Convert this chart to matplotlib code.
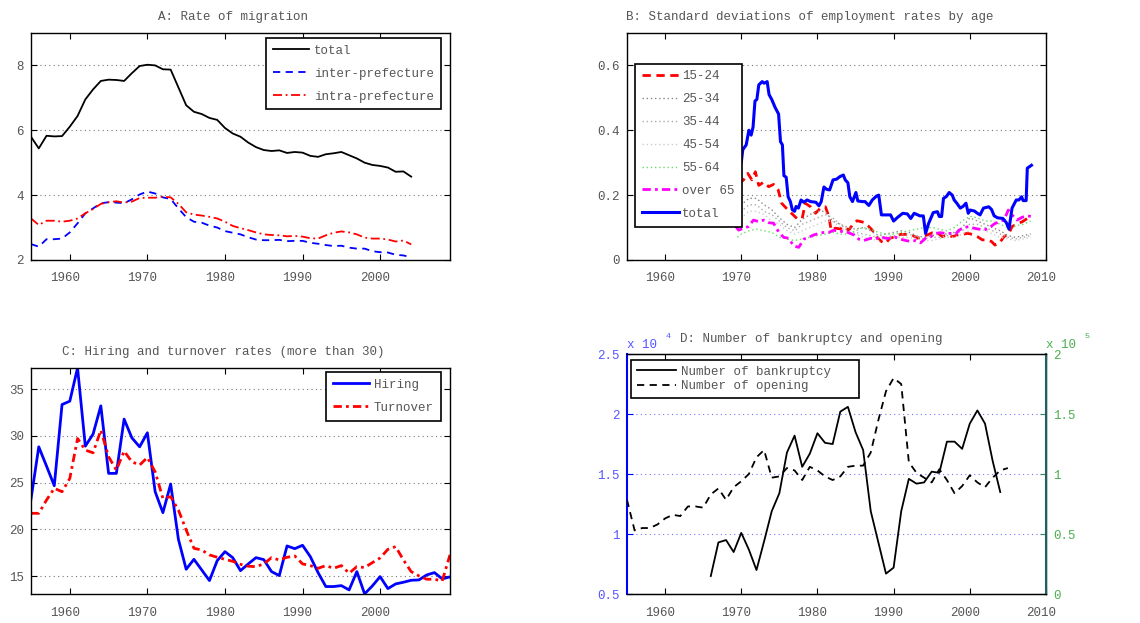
import matplotlib
matplotlib.use('Agg')
import matplotlib.pyplot as plt
from matplotlib.ticker import FormatStrFormatter
from matplotlib.transforms import ScaledTranslation

plt.rcParams['font.family'] = ['Liberation Mono', 'DejaVu Sans Mono']
plt.rcParams['font.size'] = 9

txt_col = '#555555'

# ---- A: rate of migration (annual 1955-2004)
years_a = list(range(1955, 2005))
mig_total = [5.80, 5.44, 5.83, 5.81, 5.82, 6.11, 6.44, 6.95, 7.26, 7.52,
             7.56, 7.55, 7.52, 7.76, 7.98, 8.02, 8.00, 7.88, 7.87, 7.32,
             6.77, 6.57, 6.50, 6.38, 6.32, 6.07, 5.90, 5.80, 5.62, 5.48,
             5.39, 5.36, 5.38, 5.30, 5.33, 5.31, 5.21, 5.18, 5.26, 5.29,
             5.33, 5.23, 5.13, 5.00, 4.93, 4.90, 4.85, 4.72, 4.73, 4.57]
mig_inter = [2.49, 2.41, 2.64, 2.64, 2.66, 2.85, 3.13, 3.44, 3.59, 3.75,
             3.78, 3.77, 3.75, 3.87, 4.02, 4.11, 4.05, 3.93, 3.88, 3.59,
             3.32, 3.18, 3.15, 3.06, 3.00, 2.89, 2.84, 2.79, 2.70, 2.63,
             2.61, 2.61, 2.62, 2.58, 2.59, 2.59, 2.53, 2.50, 2.46, 2.43,
             2.44, 2.38, 2.35, 2.35, 2.27, 2.24, 2.23, 2.16, 2.14, 2.08]
mig_intra = [3.28, 3.08, 3.21, 3.21, 3.18, 3.21, 3.28, 3.44, 3.57, 3.73,
             3.78, 3.81, 3.77, 3.80, 3.91, 3.92, 3.92, 3.95, 3.93, 3.73,
             3.47, 3.40, 3.37, 3.33, 3.28, 3.18, 3.05, 2.98, 2.92, 2.85,
             2.79, 2.77, 2.76, 2.73, 2.74, 2.72, 2.67, 2.66, 2.76, 2.84,
             2.88, 2.85, 2.79, 2.69, 2.66, 2.66, 2.63, 2.57, 2.60, 2.48]

# ---- B: std of employment rates by age
t_total = [1969.3, 1969.65, 1970.0, 1970.2, 1970.65, 1971.0, 1971.3, 1971.55, 1971.8,
           1972.05, 1972.3, 1972.75, 1973.0, 1973.4, 1973.65, 1974.0, 1974.45, 1974.9,
           1975.15, 1975.4, 1975.6, 1975.9, 1976.15, 1976.45, 1976.7, 1977.0, 1977.2,
           1977.5, 1977.85, 1978.2, 1978.65, 1979.1, 1979.8, 1980.2, 1980.5, 1980.85,
           1981.2, 1981.6, 1982.05, 1982.5, 1982.95, 1983.4, 1983.65, 1984.0, 1984.25,
           1984.6, 1985.05, 1985.3, 1985.9, 1986.25, 1986.75, 1987.2, 1987.75, 1988.05,
           1988.4, 1989.6, 1990.0, 1990.55, 1991.2, 1991.8, 1992.25, 1992.7, 1993.45,
           1993.9, 1994.2, 1994.6, 1995.2, 1995.75, 1996.0, 1996.3, 1996.55, 1996.9,
           1997.3, 1997.7, 1997.95, 1998.3, 1998.75, 1999.1, 1999.5, 1999.8, 2000.05,
           2000.6, 2001.0, 2001.35, 2001.8, 2002.5, 2002.85, 2003.2, 2003.65, 2004.35,
           2004.8, 2005.15, 2005.55, 2006.1, 2006.45, 2006.8, 2007.0, 2007.4, 2007.55,
           2008.1]
sd_total = [0.30, 0.32, 0.30, 0.34, 0.355, 0.40, 0.385, 0.41, 0.49,
            0.495, 0.54, 0.55, 0.545, 0.55, 0.51, 0.495, 0.47, 0.45,
            0.365, 0.355, 0.26, 0.255, 0.195, 0.18, 0.155, 0.15, 0.165,
            0.16, 0.185, 0.178, 0.185, 0.18, 0.178, 0.167, 0.18, 0.225,
            0.218, 0.216, 0.247, 0.249, 0.257, 0.262, 0.247, 0.238, 0.195,
            0.18, 0.208, 0.182, 0.18, 0.18, 0.168, 0.185, 0.197, 0.20,
            0.139, 0.139, 0.12, 0.132, 0.144, 0.142, 0.128, 0.144, 0.136,
            0.136, 0.082, 0.113, 0.146, 0.149, 0.134, 0.134, 0.19, 0.195,
            0.208, 0.20, 0.185, 0.175, 0.16, 0.165, 0.175, 0.144, 0.154,
            0.151, 0.144, 0.139, 0.16, 0.164, 0.156, 0.136, 0.13, 0.128,
            0.115, 0.095, 0.16, 0.185, 0.185, 0.195, 0.183, 0.183, 0.283,
            0.292]
t_young = [1969.3, 1969.65, 1969.95, 1970.3, 1970.85, 1971.4, 1971.85, 1972.3, 1972.95,
           1973.6, 1974.25, 1974.85, 1975.3, 1975.9, 1976.6, 1977.3, 1978.0, 1978.4,
           1979.1, 1979.75, 1980.4, 1981.05, 1981.5, 1981.8, 1982.35, 1983.0, 1983.45,
           1984.1, 1984.7, 1985.2, 1986.1, 1986.75, 1987.2, 1987.75, 1988.4, 1988.95,
           1989.5, 1990.25, 1990.9, 1991.8, 1992.45, 1993.1, 1993.75, 1994.4, 1995.1,
           1995.75, 1996.4, 1997.05, 1997.7, 1998.4, 1999.05, 1999.7, 2000.35, 2001.0,
           2001.65, 2002.3, 2002.85, 2003.3, 2003.85, 2004.5, 2005.15, 2005.55, 2006.2,
           2006.9, 2007.55, 2008.1]
sd_15_24 = [0.19, 0.205, 0.24, 0.247, 0.267, 0.247, 0.272, 0.23, 0.24,
            0.226, 0.233, 0.216, 0.175, 0.16, 0.144, 0.128, 0.128, 0.175,
            0.164, 0.144, 0.16, 0.164, 0.134, 0.092, 0.098, 0.096, 0.103,
            0.092, 0.111, 0.121, 0.116, 0.103, 0.092, 0.072, 0.057, 0.051,
            0.067, 0.072, 0.079, 0.079, 0.077, 0.067, 0.072, 0.077, 0.084,
            0.084, 0.072, 0.077, 0.072, 0.077, 0.079, 0.082, 0.079, 0.072,
            0.062, 0.062, 0.057, 0.046, 0.051, 0.072, 0.082, 0.103, 0.111,
            0.118, 0.128, 0.134]
t_old = [1969.3, 1969.65, 1970.3, 1970.95, 1971.6, 1972.3, 1972.95, 1973.6, 1974.25,
         1974.9, 1975.55, 1976.2, 1976.9, 1977.55, 1978.2, 1978.85, 1979.5, 1980.2,
         1980.85, 1981.5, 1982.15, 1982.8, 1983.45, 1984.1, 1984.8, 1985.45, 1986.1,
         1987.0, 1987.6, 1988.3, 1988.95, 1989.6, 1990.25, 1990.9, 1991.6, 1992.25,
         1992.9, 1993.55, 1994.2, 1994.85, 1995.5, 1996.15, 1996.85, 1997.5, 1998.15,
         1998.6, 1999.25, 1999.9, 2000.55, 2001.2, 2001.85, 2002.5, 2003.2, 2003.85,
         2004.5, 2005.05, 2005.55, 2006.2, 2006.9, 2007.55, 2008.1]
sd_over65 = [0.103, 0.092, 0.098, 0.103, 0.123, 0.118, 0.123, 0.115, 0.113,
             0.087, 0.07, 0.067, 0.043, 0.039, 0.064, 0.07, 0.077, 0.082,
             0.085, 0.085, 0.092, 0.087, 0.089, 0.084, 0.077, 0.064, 0.06,
             0.067, 0.064, 0.072, 0.067, 0.067, 0.07, 0.064, 0.06, 0.057,
             0.06, 0.053, 0.067, 0.072, 0.082, 0.084, 0.082, 0.082, 0.08,
             0.092, 0.10, 0.103, 0.098, 0.095, 0.092, 0.098, 0.111, 0.118,
             0.123, 0.154, 0.139, 0.123, 0.132, 0.136, 0.134]
t_mid = [1969.5, 1970, 1971, 1972, 1973, 1974, 1975, 1976, 1977, 1978,
         1979, 1980, 1981, 1982, 1983, 1984, 1985, 1986, 1987, 1988,
         1989, 1990, 1991, 1992, 1993, 1994, 1995, 1996, 1997, 1998,
         1999, 2000, 2001, 2002, 2003, 2004, 2005, 2006, 2007, 2008]
sd_25_34 = [0.16, 0.17, 0.19, 0.19, 0.17, 0.155, 0.13, 0.11, 0.10, 0.125,
            0.14, 0.15, 0.15, 0.12, 0.11, 0.10, 0.095, 0.10, 0.09, 0.075,
            0.08, 0.085, 0.09, 0.085, 0.075, 0.07, 0.075, 0.08, 0.08, 0.085,
            0.10, 0.13, 0.12, 0.11, 0.10, 0.09, 0.075, 0.07, 0.075, 0.08]
sd_35_44 = [0.14, 0.15, 0.17, 0.17, 0.15, 0.14, 0.12, 0.10, 0.09, 0.11,
            0.12, 0.13, 0.14, 0.13, 0.11, 0.09, 0.085, 0.08, 0.075, 0.07,
            0.07, 0.075, 0.08, 0.08, 0.07, 0.065, 0.07, 0.07, 0.075, 0.08,
            0.09, 0.11, 0.11, 0.10, 0.09, 0.08, 0.07, 0.065, 0.07, 0.075]
sd_45_54 = [0.12, 0.13, 0.15, 0.15, 0.14, 0.12, 0.11, 0.09, 0.08, 0.09,
            0.10, 0.11, 0.12, 0.12, 0.10, 0.085, 0.08, 0.07, 0.065, 0.06,
            0.065, 0.07, 0.07, 0.07, 0.065, 0.06, 0.06, 0.065, 0.07, 0.07,
            0.08, 0.09, 0.10, 0.09, 0.08, 0.07, 0.065, 0.06, 0.065, 0.07]
sd_55_64 = [0.07, 0.08, 0.09, 0.095, 0.09, 0.085, 0.07, 0.065, 0.06, 0.065,
            0.07, 0.075, 0.08, 0.085, 0.08, 0.08, 0.09, 0.10, 0.095, 0.085,
            0.08, 0.08, 0.085, 0.09, 0.095, 0.10, 0.10, 0.095, 0.09, 0.10,
            0.12, 0.135, 0.13, 0.12, 0.12, 0.11, 0.10, 0.105, 0.11, 0.12]

# ---- C: hiring and turnover (annual 1955-2009)
years_c = list(range(1955, 2010))
hiring = [23.26, 28.84, 26.78, 24.68, 33.36, 33.72, 37.28, 28.91, 30.20, 33.22,
          26.00, 26.00, 31.80, 29.80, 28.84, 30.34, 24.04, 21.80, 24.86, 18.95,
          15.75, 16.81, 15.68, 14.54, 16.67, 17.63, 16.99, 15.60, 16.32, 16.99,
          16.78, 15.50, 15.07, 18.24, 17.95, 18.31, 17.10, 15.39, 13.90, 13.90,
          14.00, 13.54, 15.50, 13.11, 13.97, 14.96, 13.68, 14.18, 14.36, 14.57,
          14.61, 15.14, 15.39, 14.72, 14.93]
turnover = [21.73, 21.73, 23.15, 24.40, 24.04, 25.46, 29.73, 28.49, 28.20, 30.62,
            27.78, 26.35, 28.38, 27.24, 26.89, 27.70, 26.17, 23.33, 23.51, 22.08,
            19.95, 17.99, 17.81, 17.28, 17.03, 16.81, 16.60, 16.28, 16.07, 16.03,
            16.32, 16.99, 16.74, 17.03, 17.17, 16.32, 16.14, 15.85, 16.14, 15.85,
            16.14, 15.32, 16.03, 15.93, 16.46, 16.96, 17.88, 18.17, 16.74, 15.50,
            15.04, 14.68, 14.68, 14.50, 17.28]

# ---- D: bankruptcies (x 10^4) and openings (x 10^5)
years_bk = list(range(1966, 2005))
bankrupt = [0.65, 0.93, 0.95, 0.85, 1.01, 0.87, 0.70, 0.94, 1.19, 1.34,
            1.68, 1.82, 1.56, 1.67, 1.84, 1.76, 1.75, 2.02, 2.06, 1.85,
            1.70, 1.19, 0.93, 0.67, 0.72, 1.19, 1.46, 1.42, 1.43, 1.52,
            1.51, 1.77, 1.77, 1.71, 1.92, 2.03, 1.92, 1.61, 1.35]
years_op = list(range(1955, 2006))
opening = [0.785, 0.53, 0.55, 0.55, 0.58, 0.63, 0.66, 0.65, 0.73, 0.73,
           0.72, 0.83, 0.88, 0.785, 0.89, 0.94, 1.00, 1.14, 1.20, 0.97,
           0.98, 1.05, 1.03, 0.95, 1.06, 1.03, 0.98, 0.95, 0.98, 1.06,
           1.07, 1.07, 1.18, 1.45, 1.69, 1.80, 1.75, 1.10, 1.01, 0.97,
           0.93, 1.04, 0.95, 0.84, 0.90, 0.99, 0.93, 0.89, 0.97, 1.03,
           1.05]


def style_axes(ax, grid_col='#777777'):
    ax.tick_params(direction='in', top=True, right=True, length=4,
                   labelcolor=txt_col, labelsize=9)
    ax.tick_params(axis='x', pad=9)
    ax.tick_params(axis='y', pad=5)
    ax.yaxis.grid(True, linestyle=(0, (1, 3)), color=grid_col, linewidth=0.8)
    ax.set_axisbelow(True)
    for s in ax.spines.values():
        s.set_linewidth(1.0)
    ax.yaxis.set_major_formatter(FormatStrFormatter('%g'))


def shift_xlabels(ax, dx=-5):
    # year labels sit a few pixels left of their ticks in the original
    off = ScaledTranslation(dx / 100, 0, fig.dpi_scale_trans)
    for t in ax.xaxis.get_major_ticks():
        t.label1.set_transform(t.label1.get_transform() + off)


def legend(ax, handles=None, **kw):
    if handles is None:
        lg = ax.legend(**kw)
    else:
        lg = ax.legend(handles=handles, **kw)
    fr = lg.get_frame()
    fr.set_edgecolor('black')
    fr.set_linewidth(1.2)
    fr.set_boxstyle('square', pad=0)
    for t in lg.get_texts():
        t.set_color(txt_col)
    return lg


fig = plt.figure(figsize=(11.4, 6.23), dpi=100)
axA = fig.add_axes([0.0272, 0.5827, 0.3675, 0.3644])
axB = fig.add_axes([0.5500, 0.5827, 0.3675, 0.3644])
axC = fig.add_axes([0.0272, 0.0465, 0.3675, 0.3633])
axD = fig.add_axes([0.5500, 0.0465, 0.3675, 0.3852])

common_leg = dict(frameon=True, fancybox=False, borderaxespad=0, handlelength=2.9,
                  handletextpad=0.4, borderpad=0.55, labelspacing=0.87, fontsize=9,
                  framealpha=1)

# A
axA.plot(years_a, mig_total, color='black', lw=1.3, label='total')
axA.plot(years_a, mig_inter, color='blue', lw=1.3, ls=(0, (4, 3)), label='inter-prefecture')
axA.plot(years_a, mig_intra, color='red', lw=1.3, ls=(0, (5, 2, 1, 2)), label='intra-prefecture')
axA.set_xlim(1955, 2009)
axA.set_ylim(2, 9)
axA.set_xticks([1960, 1970, 1980, 1990, 2000])
axA.set_yticks([2, 4, 6, 8])
style_axes(axA)
axA.set_title('A: Rate of migration', x=0.482, pad=9, color=txt_col, fontsize=9)
legend(axA, loc='upper right', bbox_to_anchor=(0.978, 0.978), **common_leg)

# B
axB.plot(t_young, sd_15_24, color='red', lw=2, ls=(0, (3, 2)), label='15-24')
axB.plot(t_mid, sd_25_34, color='#888888', lw=1, ls=(0, (1, 2)), label='25-34')
axB.plot(t_mid, sd_35_44, color='#aaaaaa', lw=1, ls=(0, (1, 2)), label='35-44')
axB.plot(t_mid, sd_45_54, color='#cccccc', lw=1, ls=(0, (1, 2)), label='45-54')
axB.plot(t_mid, sd_55_64, color='#66dd66', lw=1, ls=(0, (1, 2)), label='55-64')
axB.plot(t_old, sd_over65, color='magenta', lw=2, ls=(0, (3, 1.5, 1, 1.5)), label='over 65')
axB.plot(t_total, sd_total, color='blue', lw=2.2, label='total')
axB.set_xlim(1955, 2010)
axB.set_ylim(0, 0.7)
axB.set_xticks([1960, 1970, 1980, 1990, 2000, 2010])
axB.set_yticks([0, 0.2, 0.4, 0.6])
style_axes(axB)
axB.set_title('B: Standard deviations of employment rates by age', x=0.437, pad=9,
              color=txt_col, fontsize=9)
legB = dict(common_leg)
legB['handletextpad'] = 0.3
legend(axB, loc='upper left', bbox_to_anchor=(0.02, 0.865), **legB)

# C
axC.plot(years_c, hiring, color='blue', lw=2, label='Hiring')
axC.plot(years_c, turnover, color='red', lw=2, ls=(0, (3, 1.5, 1, 1.5)), label='Turnover')
axC.set_xlim(1955, 2009)
axC.set_ylim(13.1, 37.3)
axC.set_xticks([1960, 1970, 1980, 1990, 2000])
axC.set_yticks([15, 20, 25, 30, 35])
style_axes(axC)
axC.set_title('C: Hiring and turnover rates (more than 30)', x=0.458, pad=9,
              color=txt_col, fontsize=9)
legend(axC, loc='upper right', bbox_to_anchor=(0.978, 0.981), **common_leg)

# D
blue_txt = '#5555ff'
green_txt = '#4caf50'
lb, = axD.plot(years_bk, bankrupt, color='black', lw=1.3, label='Number of bankruptcy   ')
axD.set_xlim(1955, 2010)
axD.set_ylim(0.5, 2.5)
axD.set_xticks([1960, 1970, 1980, 1990, 2000, 2010])
axD.set_yticks([0.5, 1, 1.5, 2, 2.5])
style_axes(axD, grid_col='#7777ff')
axD.tick_params(right=False)
axD.tick_params(axis='y', labelcolor=blue_txt, color='blue')
axD.spines['left'].set_color('blue')
axD.spines['left'].set_linewidth(1.5)

axD2 = axD.twinx()
lo, = axD2.plot(years_op, opening, color='black', lw=1.3, ls=(0, (4, 3)), label='Number of opening')
axD2.set_ylim(0, 2)
axD2.set_yticks([0, 0.5, 1, 1.5, 2])
axD2.yaxis.set_major_formatter(FormatStrFormatter('%g'))
axD2.tick_params(direction='in', length=4, labelcolor=green_txt, color='#2e8b57',
                 labelsize=9, pad=5)
axD2.spines['right'].set_color('#206060')
axD2.spines['right'].set_linewidth(1.5)
axD2.spines['left'].set_visible(False)
axD.set_title('D: Number of bankruptcy and opening', x=0.44, pad=9, color=txt_col, fontsize=9)
axD.text(0.0, 1.012, 'x 10', transform=axD.transAxes, color=blue_txt, fontsize=9,
         ha='left', va='bottom')
axD.text(0.093, 1.06, '4', transform=axD.transAxes, color=blue_txt, fontsize=6,
         ha='left', va='bottom')
axD.text(1.0, 1.012, 'x 10', transform=axD.transAxes, color=green_txt, fontsize=9,
         ha='left', va='bottom')
axD.text(1.093, 1.06, '5', transform=axD.transAxes, color=green_txt, fontsize=6,
         ha='left', va='bottom')
legD = dict(common_leg)
legD['labelspacing'] = 0.2
legD['borderpad'] = 0.45
legD['handlelength'] = 3.1
legend(axD2, handles=[lb, lo], loc='upper left', bbox_to_anchor=(0.01, 0.975), **legD)

for ax in (axA, axB, axC, axD):
    shift_xlabels(ax)

fig.savefig('out.png', dpi=100)
